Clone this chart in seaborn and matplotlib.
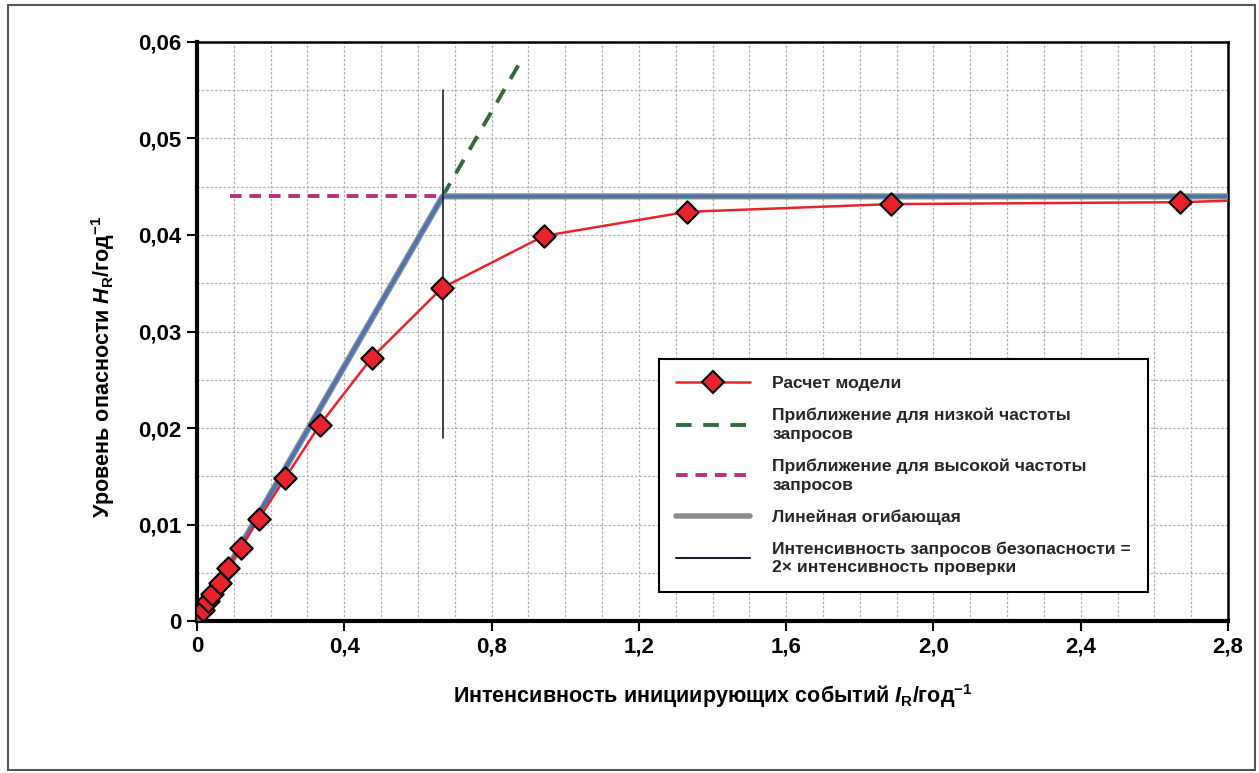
import matplotlib
matplotlib.use("Agg")
import matplotlib.pyplot as plt
import matplotlib.ticker as mticker
from matplotlib.patches import Rectangle
from matplotlib.lines import Line2D
import seaborn as sns
import numpy as np

# Model calculation points
model_x = [0.016, 0.030, 0.041, 0.062, 0.084, 0.119, 0.168, 0.239, 0.333, 0.475, 0.665, 0.942, 1.331, 1.885, 2.670]
model_y = [0.0011, 0.0021, 0.0028, 0.0039, 0.0055, 0.0076, 0.0106, 0.0148, 0.0203, 0.0273, 0.0345, 0.0399, 0.0424, 0.0432, 0.0434]
# Model line (through origin to right edge)
line_x = [0.0] + model_x + [2.8]
line_y = [0.0] + model_y + [0.04355]

low_x = [0.0, 0.885]
low_y = [0.0, 0.0584]
high_x = [0.09, 2.8]
high_y = [0.044, 0.044]
env_x = [0.0, 0.667, 2.8]
env_y = [0.0, 0.044, 0.044]
vert_x = [0.667, 0.667]
vert_y = [0.019, 0.055]

labels = [
    "Расчет модели",
    "Приближение для низкой частоты\nзапросов",
    "Приближение для высокой частоты\nзапросов",
    "Линейная огибающая",
    "Интенсивность запросов безопасности =\n2× интенсивность проверки",
]

sns.set_theme(style="white")
plt.rcParams['font.family'] = ['Liberation Sans', 'DejaVu Sans']
plt.rcParams['mathtext.fontset'] = 'custom'
plt.rcParams['mathtext.rm'] = 'Liberation Sans:bold'
plt.rcParams['mathtext.it'] = 'Liberation Sans:bold:italic'
plt.rcParams['mathtext.bf'] = 'Liberation Sans:bold'

fig = plt.figure(figsize=(12.59, 7.73), dpi=100)
ax = fig.add_axes([0.1565, 0.1966, 0.8189, 0.7491])

# frame around figure
fig.patches.append(Rectangle((0.006, 0.004), 0.991, 0.990, transform=fig.transFigure,
                             fill=False, edgecolor="#555555", linewidth=1.5))

red = "#e8232b"
green = "#2e6a3c"
magenta = "#b8307f"
gray = "#8c8c8c"
navy = "#1c1c2e"

sns.lineplot(x=low_x, y=low_y, ax=ax, color=green, linewidth=2.8,
             linestyle=(0, (4, 3)), estimator=None, sort=False, zorder=2)
sns.lineplot(x=high_x, y=high_y, ax=ax, color=magenta, linewidth=2.8,
             linestyle=(0, (3, 2)), estimator=None, sort=False, zorder=2)
sns.lineplot(x=env_x, y=env_y, ax=ax, color=gray, linewidth=4.5,
             estimator=None, sort=False, zorder=3)
ax.plot(env_x, env_y, color="#4a72b8", linewidth=2.5, zorder=3.5)
sns.lineplot(x=vert_x, y=vert_y, ax=ax, color=navy, linewidth=1.2,
             estimator=None, sort=False, zorder=4)
sns.lineplot(x=line_x, y=line_y, ax=ax, color=red, linewidth=1.8,
             estimator=None, sort=False, zorder=5)
sns.scatterplot(x=model_x, y=model_y, ax=ax, marker="D", s=130, color=red,
                edgecolor="black", linewidth=1.5, zorder=6)

ax.set_xlim(0, 2.8)
ax.set_ylim(0, 0.06)
ax.xaxis.set_major_locator(mticker.MultipleLocator(0.4))
ax.xaxis.set_minor_locator(mticker.MultipleLocator(0.1))
ax.yaxis.set_major_locator(mticker.MultipleLocator(0.01))
ax.yaxis.set_minor_locator(mticker.MultipleLocator(0.005))

def fx(v, p):
    return f"{v:.1f}".replace(".", ",") if abs(v) > 1e-9 else "0"
def fy(v, p):
    return f"{v:.2f}".replace(".", ",") if abs(v) > 1e-9 else "0"
ax.xaxis.set_major_formatter(mticker.FuncFormatter(fx))
ax.yaxis.set_major_formatter(mticker.FuncFormatter(fy))

ax.grid(which="both", color="#b0b0b0", linestyle=(0, (2, 1.5)), linewidth=0.9)
ax.set_axisbelow(True)

for s in ["left", "bottom"]:
    ax.spines[s].set_linewidth(3)
    ax.spines[s].set_color("black")
for s in ["top", "right"]:
    ax.spines[s].set_linewidth(1.8)
    ax.spines[s].set_color("black")

ax.tick_params(axis="both", which="major", direction="out", length=7, width=1.5,
               labelsize=16, colors="black", bottom=True, left=True, pad=4)
ax.tick_params(axis="both", which="minor", length=0)
for t in ax.get_xticklabels() + ax.get_yticklabels():
    t.set_fontweight("bold")

ax.set_xlabel(r"Интенсивность инициирующих событий $\mathit{I}_{\mathrm{R}}$/год$^{\mathrm{-1}}$",
              fontsize=15.5, fontweight="bold", labelpad=18, color="black")
ax.set_ylabel(r"Уровень опасности $\mathit{H}_{\mathrm{R}}$/год$^{\mathrm{-1}}$",
              fontsize=15.5, fontweight="bold", color="black")
ax.yaxis.set_label_coords(-0.078, 0.44)

# legend
handles = [
    Line2D([0], [0], color=red, linewidth=1.8, marker="D", markersize=11,
           markerfacecolor=red, markeredgecolor="black", markeredgewidth=1.5),
    Line2D([0], [0], color=green, linewidth=2.8, linestyle=(0, (4, 3))),
    Line2D([0], [0], color=magenta, linewidth=2.8, linestyle=(0, (3, 2))),
    Line2D([0], [0], color=gray, linewidth=4),
    Line2D([0], [0], color=navy, linewidth=1.5),
]
leg = ax.legend(handles, labels, loc="lower left", bbox_to_anchor=(0.44, 0.035),
                prop={"size": 12.6, "weight": "bold"}, frameon=True, fancybox=False,
                edgecolor="black", handlelength=4.2, handletextpad=1.3,
                labelspacing=0.95, borderpad=0.95)
for t in leg.get_texts():
    t.set_linespacing(1.3)
leg.get_frame().set_linewidth(1.5)
leg.get_frame().set_facecolor("white")
leg.get_frame().set_alpha(1)

fig.savefig("out.png", dpi=100, facecolor="white")
